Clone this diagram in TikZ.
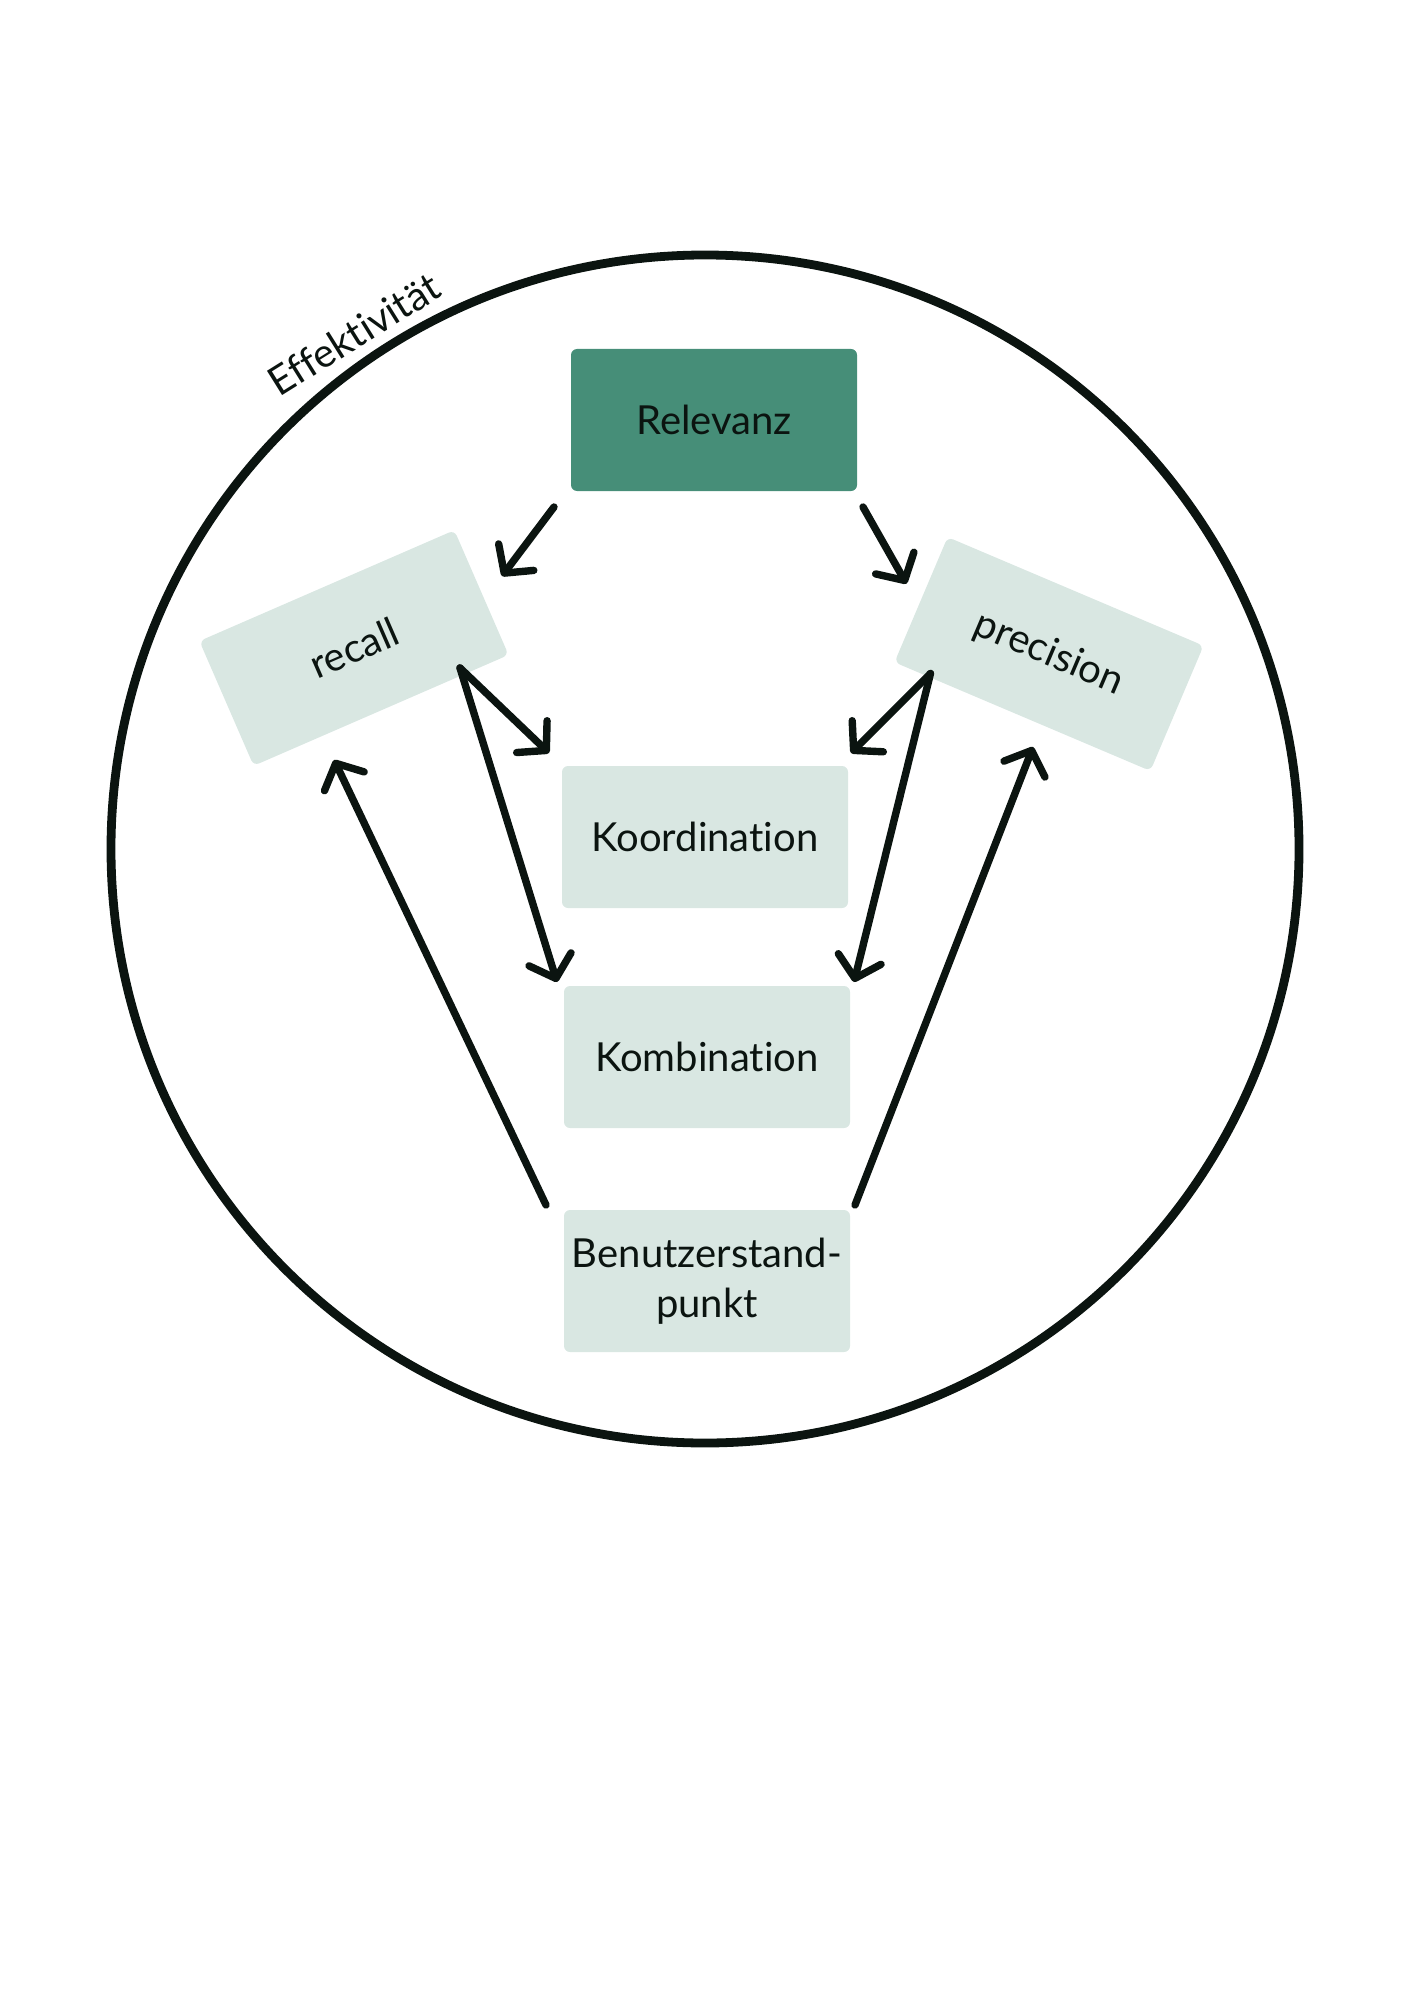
\documentclass[tikz,border=0pt]{standalone}
\usepackage{fontspec}
\setmainfont{Lato}[Ligatures=NoCommon]
\usepackage{tikz}
\usetikzlibrary{arrows.meta}
\definecolor{dunkelgruen}{HTML}{468E78}
\definecolor{hellgruen}{HTML}{D9E7E2}
\definecolor{tinte}{HTML}{0B1410}
\tikzset{every node/.style={font=\fontsize{20}{25}\selectfont, text=tinte},
    box/.style={fill=hellgruen, rounded corners=3pt, minimum width=143pt,
        minimum height=71pt, inner sep=0pt, outer sep=0pt, align=center},
    relbox/.style={box, fill=dunkelgruen},
    tiltbox/.style={box, minimum width=139pt, minimum height=68pt},
    arr/.style={draw=tinte, line width=3.7pt, line cap=round, line join=round,
        -{Straight Barb[round,length=10pt,width=22pt]}},
    ring/.style={draw=tinte, line width=4.4pt}}

\begin{document}
\begin{tikzpicture}[x=0.5pt, y=-0.5pt]
    \useasboundingbox (0,0) rectangle (1414,2000);
    \draw[ring] (705,849) circle[radius=297pt];
    \node[rotate=32] (eff) at (354,334) {Effektivität};

    \node[relbox] (rel) at (714,420) {Relevanz};
    \node[tiltbox, rotate=23.5] (recall) at (354,648) {recall};
    \node[tiltbox, rotate=-23] (prec) at (1049,654) {precision};
    \node[box] (koord) at (705,837) {Koordination};
    \node[box] (komb) at (707,1057) {Kombination};
    \node[box] (ben) at (707,1281) {Benutzerstand-\\punkt};

    % von Relevanz
    \draw[arr] ([xshift=-8.5pt,yshift=-8pt]rel.south west) -- ([xshift=10.25pt,yshift=8.25pt]recall.east);
    \draw[arr] ([xshift=3pt,yshift=-8pt]rel.south east) -- ([xshift=-7.3pt,yshift=8pt]prec.west);
    % recall / precision nach unten
    \draw[arr] ([xshift=-24.3pt,yshift=-6.5pt]recall.south east) -- ([xshift=-6.5pt,yshift=6.5pt]koord.north west);
    \draw[arr] ([xshift=-24.3pt,yshift=-6.5pt]recall.south east) -- ([xshift=-3.5pt,yshift=2pt]komb.north west);
    \draw[arr] ([xshift=18pt,yshift=-5.6pt]prec.south west) -- ([xshift=1.5pt,yshift=6.5pt]koord.north east);
    \draw[arr] ([xshift=18pt,yshift=-5.6pt]prec.south west) -- ([xshift=2pt,yshift=2pt]komb.north east);
    % Benutzerstandpunkt
    \draw[arr] ([xshift=-9pt,yshift=2.5pt]ben.north west) -- ([xshift=-23.5pt,yshift=-24.8pt]recall.south);
    \draw[arr] ([xshift=2.5pt,yshift=2.5pt]ben.north east) -- ([xshift=5.3pt,yshift=-15.2pt]prec.south);
\end{tikzpicture}
\end{document}
